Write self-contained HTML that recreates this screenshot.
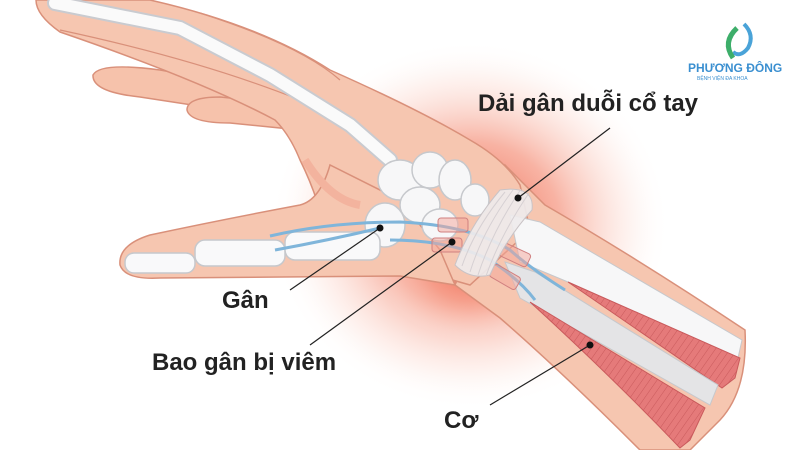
<!DOCTYPE html>
<html><head><meta charset="utf-8"><style>
html,body{margin:0;padding:0;background:#fff;}
svg{display:block}
text{font-family:"Liberation Sans",sans-serif;}
</style></head><body>
<svg width="800" height="450" viewBox="0 0 800 450" xmlns="http://www.w3.org/2000/svg">
<defs>
<radialGradient id="glow" cx="0.5" cy="0.5" r="0.5">
<stop offset="0" stop-color="#ef5a42" stop-opacity="0.95"/>
<stop offset="0.45" stop-color="#f48a72" stop-opacity="0.65"/>
<stop offset="0.8" stop-color="#fbd0c4" stop-opacity="0.25"/>
<stop offset="1" stop-color="#fff" stop-opacity="0"/>
</radialGradient>
<pattern id="musc" width="6" height="6" patternUnits="userSpaceOnUse" patternTransform="rotate(35)">
<rect width="6" height="6" fill="#e57a7a"/><line x1="0" y1="0" x2="0" y2="6" stroke="#c95a5c" stroke-width="1"/>
</pattern>
</defs>
<rect width="800" height="450" fill="#fff"/>
<ellipse cx="470" cy="225" rx="200" ry="185" fill="url(#glow)"/>
<ellipse cx="470" cy="270" rx="90" ry="70" fill="url(#glow)" opacity="0.6"/>
<!-- forearm -->
<path d="M505,165 Q530,190 545,205 Q640,260 745,330 Q748,390 720,420 L690,450 L640,450 Q560,370 500,318 L455,285 Z" fill="#f6c6b0" stroke="#d9907a" stroke-width="1.5"/>
<!-- lower fingers -->
<path d="M300,95 L160,70 Q100,62 93,75 Q92,92 140,97 L290,120 Z" fill="#f6c2ab" stroke="#d9907a" stroke-width="1.5"/>
<path d="M300,105 L220,97 Q187,97 187,110 Q190,123 230,123 L300,130 Z" fill="#f6c2ab" stroke="#d9907a" stroke-width="1.5"/>
<!-- hand body -->
<path d="M36,0 L150,0 Q260,25 330,70 Q420,110 470,140 Q505,160 520,185 L530,230 L470,285 L400,265 L330,250 Q320,200 300,160 Q290,135 275,120 Q200,80 60,32 Q36,15 36,0Z" fill="#f6c6b0" stroke="#d9907a" stroke-width="1.5"/>
<path d="M60,30 Q200,60 300,100 M200,13 Q300,45 340,80" stroke="#d9907a" stroke-width="1.2" fill="none"/>
<!-- thumb -->
<path d="M330,165 Q320,200 300,205 Q220,220 150,235 Q118,245 120,265 Q125,280 160,278 L400,276 L455,285 L440,250 L400,200 Z" fill="#f6c6b0" stroke="#d9907a" stroke-width="1.5"/>
<path d="M305,160 Q330,200 360,205" fill="none" stroke="#f3b39e" stroke-width="8"/>
<!-- finger bone -->
<path d="M55,3 L110,14 L180,28 L270,75 L350,125 L390,160" stroke="#c9cbd0" stroke-width="16" stroke-linecap="round" fill="none"/>
<path d="M55,3 L110,14 L180,28 L270,75 L350,125 L390,160" stroke="#fafafa" stroke-width="12" stroke-linecap="round" fill="none"/>
<!-- carpals -->
<g fill="#f7f7f8" stroke="#c6c8cc" stroke-width="1.5">
<ellipse cx="400" cy="180" rx="22" ry="20"/>
<ellipse cx="430" cy="170" rx="18" ry="18"/>
<ellipse cx="455" cy="180" rx="16" ry="20"/>
<ellipse cx="475" cy="200" rx="14" ry="16"/>
<ellipse cx="420" cy="205" rx="20" ry="18"/>
<ellipse cx="385" cy="225" rx="20" ry="22"/>
<ellipse cx="440" cy="225" rx="18" ry="16"/>
</g>
<!-- thumb bones -->
<g fill="#f9f9fa" stroke="#c6c8cc" stroke-width="1.5">
<rect x="125" y="253" width="70" height="20" rx="9"/>
<rect x="195" y="240" width="90" height="26" rx="10"/>
<rect x="285" y="232" width="95" height="28" rx="10"/>
</g>
<!-- forearm bones & muscles -->
<path d="M510,215 L540,222 L742,340 L738,358 L568,282 L520,262Z" fill="#f7f7f8" stroke="#c6c8cc"/>
<path d="M568,282 L740,358 L735,378 L722,388 Z" fill="url(#musc)" stroke="#c95a5c"/>
<path d="M505,262 L535,272 L718,385 L710,405 L520,298Z" fill="#e4e4e6" stroke="#c6c8cc"/>
<path d="M530,302 Q610,350 705,408 L690,440 L680,448 Q610,375 530,302Z" fill="url(#musc)" stroke="#c95a5c"/>
<!-- tendons -->
<g stroke="#7fb5da" stroke-width="3" fill="none">
<path d="M270,236 Q330,222 400,222 Q470,225 510,250 Q530,268 565,290"/>
<path d="M275,250 Q330,240 380,228"/>
<path d="M390,240 Q450,240 490,260 Q520,280 535,300"/>
</g>
<!-- sheaths -->
<g fill="#f3a69a" fill-opacity="0.5" stroke="#d08080">
<rect x="438" y="218" width="30" height="14" rx="3"/>
<rect x="432" y="238" width="30" height="14" rx="3"/>
<rect x="500" y="248" width="30" height="14" rx="3" transform="rotate(25 515 255)"/>
<rect x="490" y="270" width="30" height="14" rx="3" transform="rotate(30 505 277)"/>
</g>
<!-- wrist band -->
<path d="M500,190 Q535,185 532,210 Q505,240 490,275 Q470,280 455,265 Q470,225 500,190Z" fill="#eeeaec" fill-opacity="0.92" stroke="#c9c3c6"/>
<g stroke="#d6d0d3" stroke-width="1" fill="none">
<path d="M505,192 Q475,228 462,266"/><path d="M513,190 Q483,230 470,272"/><path d="M521,189 Q492,232 478,275"/><path d="M529,193 Q500,236 486,276"/>
</g>
<!-- labels -->
<g stroke="#222" stroke-width="1.2" fill="none">
<line x1="518" y1="198" x2="610" y2="128"/>
<line x1="380" y1="228" x2="290" y2="290"/>
<line x1="452" y1="242" x2="310" y2="345"/>
<line x1="590" y1="345" x2="490" y2="405"/>
</g>
<g fill="#111">
<circle cx="518" cy="198" r="3.5"/><circle cx="380" cy="228" r="3.5"/>
<circle cx="452" cy="242" r="3.5"/><circle cx="590" cy="345" r="3.5"/>
</g>
<g font-size="24" font-weight="bold" fill="#222">
<text x="478" y="111">Dải gân duỗi cổ tay</text>
<text x="222" y="308">Gân</text>
<text x="152" y="370">Bao gân bị viêm</text>
<text x="444" y="428">Cơ</text>
</g>
<!-- logo -->
<path d="M744,24 Q755,35 748,48 Q740,58 733,52" stroke="#4aa3d8" stroke-width="4" fill="none"/>
<path d="M737,28 Q722,42 733,58" stroke="#3dae6a" stroke-width="5" fill="none"/>
<text x="688" y="72" font-size="12" font-weight="bold" fill="#3a8fd0">PHƯƠNG ĐÔNG</text>
<text x="697" y="80" font-size="5" fill="#3a8fd0">BỆNH VIỆN ĐA KHOA</text>
</svg>
</body></html>
